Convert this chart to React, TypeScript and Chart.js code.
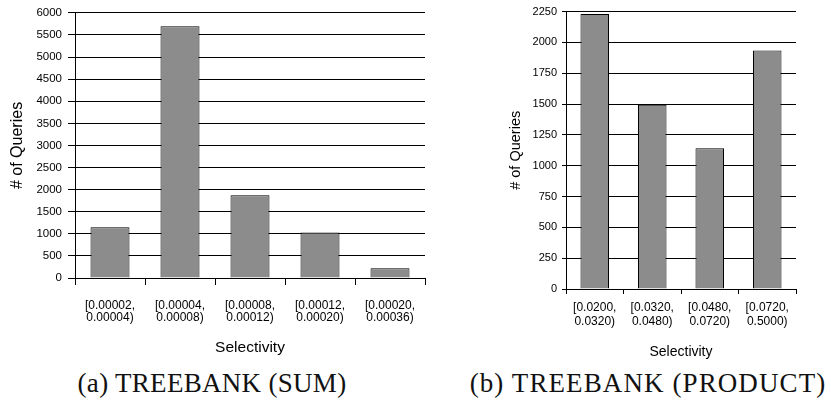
import React, { useEffect, useRef } from "react";
import { Chart, registerables } from "chart.js";

Chart.register(...registerables);

// ---- Data ----
const sumCategories: string[][] = [
  ["[0.00002,", "0.00004)"],
  ["[0.00004,", "0.00008)"],
  ["[0.00008,", "0.00012)"],
  ["[0.00012,", "0.00020)"],
  ["[0.00020,", "0.00036)"],
];
const sumValues: number[] = [1150, 5700, 1875, 1030, 220];
const sumYTicks: number[] = [0, 500, 1000, 1500, 2000, 2500, 3000, 3500, 4000, 4500, 5000, 5500, 6000];

const productCategories: string[][] = [
  ["[0.0200,", "0.0320)"],
  ["[0.0320,", "0.0480)"],
  ["[0.0480,", "0.0720)"],
  ["[0.0720,", "0.5000)"],
];
const productValues: number[] = [2230, 1495, 1142, 1934];
const productYTicks: number[] = [0, 250, 500, 750, 1000, 1250, 1500, 1750, 2000, 2250];

const yTitle = "# of Queries";
const xTitle = "Selectivity";
const captionA = "(a) TREEBANK (SUM)";
const captionB = "(b) TREEBANK (PRODUCT)";

const SANS = "'Liberation Sans', Arial, Helvetica, sans-serif";

type Cfg = {
  width: number;
  height: number;
  padTop: number;
  padRight: number;
  yWidth: number;
  xHeight: number;
  barPct: number;
  yTickLen: number;
  yTickPad: number;
  yTickSize: number;
  yTitleSize: number;
  yTitlePad: number;
  xTickLen: number;
  xTickPad: number;
  xTickSize: number;
  xTickLH: number;
  xTitleSize: number;
  xTitlePad: number;
};

function BarChart({ labels, values, yTicks, cfg }: { labels: string[][]; values: number[]; yTicks: number[]; cfg: Cfg }) {
  const ref = useRef<HTMLCanvasElement | null>(null);
  useEffect(() => {
    if (!ref.current) return;
    const n = labels.length;
    const chart = new Chart(ref.current, {
      type: "bar",
      data: {
        labels,
        datasets: [
          {
            data: values,
            backgroundColor: "#8c8c8c",
            borderColor: "#000",
            borderWidth: 1,
            borderSkipped: "start",
            barPercentage: cfg.barPct,
            categoryPercentage: 1,
          },
        ],
      },
      options: {
        animation: false,
        responsive: false,
        layout: { padding: { left: 0, top: cfg.padTop, right: cfg.padRight, bottom: 0 } },
        plugins: { legend: { display: false }, tooltip: { enabled: false } },
        scales: {
          x: {
            grid: {
              offset: true,
              drawOnChartArea: false,
              drawTicks: true,
              tickLength: cfg.xTickLen,
              lineWidth: 1,
              color: (ctx: any) => (ctx.index >= n ? "rgba(0,0,0,0)" : "#000"),
            },
            border: { display: true, color: "#000", width: 1 },
            ticks: {
              color: "#000",
              padding: cfg.xTickPad,
              maxRotation: 0,
              autoSkip: false,
              font: { family: SANS, size: cfg.xTickSize, lineHeight: cfg.xTickLH },
            },
            title: {
              display: true,
              text: xTitle,
              color: "#000",
              font: { family: SANS, size: cfg.xTitleSize },
              padding: { top: 0, bottom: cfg.xTitlePad },
            },
            afterFit: (s: any) => {
              s.height = cfg.xHeight;
            },
          },
          y: {
            min: yTicks[0],
            max: yTicks[yTicks.length - 1],
            grid: {
              color: "#000",
              lineWidth: 1,
              drawTicks: true,
              tickLength: cfg.yTickLen,
            },
            border: { display: true, color: "#000", width: 1 },
            ticks: {
              stepSize: yTicks[1] - yTicks[0],
              color: "#000",
              padding: cfg.yTickPad,
              font: { family: SANS, size: cfg.yTickSize },
              callback: (v: any) => String(v),
            },
            title: {
              display: true,
              text: yTitle,
              color: "#000",
              font: { family: SANS, size: cfg.yTitleSize },
              padding: { top: cfg.yTitlePad, bottom: 0 },
            },
            afterFit: (s: any) => {
              s.width = cfg.yWidth;
            },
          },
        },
      },
    } as any);
    return () => chart.destroy();
  }, []);
  return <canvas ref={ref} width={cfg.width} height={cfg.height} style={{ display: "block", width: cfg.width, height: cfg.height }} />;
}

const cfgA: Cfg = {
  width: 432,
  height: 362,
  padTop: 5,
  padRight: 7,
  yWidth: 75,
  xHeight: 84,
  barPct: 0.557,
  yTickLen: 7,
  yTickPad: 6,
  yTickSize: 11.5,
  yTitleSize: 16,
  yTitlePad: 8,
  xTickLen: 7,
  xTickPad: 15,
  xTickSize: 12,
  xTickLH: 1.0,
  xTitleSize: 15.5,
  xTitlePad: 5,
};

const cfgB: Cfg = {
  width: 341,
  height: 362,
  padTop: 6,
  padRight: 35,
  yWidth: 76,
  xHeight: 73,
  barPct: 0.496,
  yTickLen: 4,
  yTickPad: 5,
  yTickSize: 11,
  yTitleSize: 14.5,
  yTitlePad: 17,
  xTickLen: 5,
  xTickPad: 6,
  xTickSize: 12,
  xTickLH: 1.2,
  xTitleSize: 14,
  xTitlePad: 1,
};

const captionStyle: React.CSSProperties = {
  position: "absolute",
  top: 370,
  fontFamily: "'Liberation Serif', 'Times New Roman', serif",
  fontSize: 27,
  lineHeight: "27px",
  whiteSpace: "nowrap",
  color: "#111",
  transform: "translateX(-50%)",
};

export default function App() {
  return (
    <div style={{ position: "fixed", left: 0, top: 0, width: 831, height: 408, background: "#fff", overflow: "hidden" }}>
      <div style={{ position: "absolute", left: 0, top: 0 }}>
        <BarChart labels={sumCategories} values={sumValues} yTicks={sumYTicks} cfg={cfgA} />
      </div>
      <div style={{ position: "absolute", left: 490, top: 0 }}>
        <BarChart labels={productCategories} values={productValues} yTicks={productYTicks} cfg={cfgB} />
      </div>
      <div style={{ ...captionStyle, left: 212, letterSpacing: "0.3px" }}>{captionA}</div>
      <div style={{ ...captionStyle, left: 648, letterSpacing: "1.1px" }}>{captionB}</div>
    </div>
  );
}
